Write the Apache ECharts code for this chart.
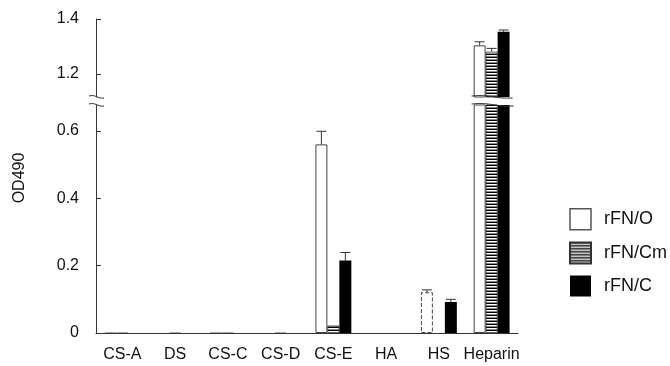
<!DOCTYPE html>
<html><head><meta charset="utf-8">
<script src="https://cdn.jsdelivr.net/npm/echarts@6/dist/echarts.min.js"></script>
<style>html,body{margin:0;padding:0;background:#fff}#c{width:670px;height:366px}</style>
</head><body><div id="c"></div>
<script>
// ---- data ----
const categories = ['CS-A', 'DS', 'CS-C', 'CS-D', 'CS-E', 'HA', 'HS', 'Heparin'];
const seriesNames = ['rFN/O', 'rFN/Cm', 'rFN/C'];
const meanO  = [0.003, 0,     0.003, 0,     0.560, 0, 0.121, 1.304];
const meanCm = [0.003, 0.003, 0.003, 0.003, 0.022, 0, 0,     1.281];
const meanC  = [0,     0,     0,     0,     0.215, 0, 0.092, 1.354];
const errO   = [0, 0, 0, 0, 0.039, 0, 0.007, 0.013];
const errCm  = [0, 0, 0, 0, 0,     0, 0,     0.012];
const errC   = [0, 0, 0, 0, 0.024, 0, 0.008, 0.006];
const lowerTicks = [0, 0.2, 0.4, 0.6];
const upperTicks = [1.2, 1.4];
const LOWER_MIN = 0, LOWER_MAX = 0.677;
const UPPER_MIN = 1.116, UPPER_MAX = 1.4;

// ---- styles ----
const FONT = "'Liberation Sans', Arial, sans-serif";
const pat = document.createElement('canvas');
pat.width = 4; pat.height = 3;
(function () {
  const g = pat.getContext('2d');
  g.fillStyle = '#000'; g.fillRect(0, 0, 4, 1);
  g.fillStyle = '#fff'; g.fillRect(0, 1, 4, 1);
  g.fillStyle = '#8a8a8a'; g.fillRect(0, 2, 4, 1);
})();
const styles = [
  { color: '#fff', borderColor: '#444', borderWidth: 1 },
  { color: { image: pat, repeat: 'repeat' }, borderColor: '#333', borderWidth: 0.8 },
  { color: '#000', borderColor: '#000', borderWidth: 0 }
];
const means = [meanO, meanCm, meanC];
const errs = [errO, errCm, errC];
const BAR_FRAC = 0.227;

function barData(arr, gridIdx, sIdx) {
  return arr.map((v, i) => {
    if (!(v > 0)) return '-';
    if (gridIdx === 0 && v <= UPPER_MIN) return '-';
    if (v < 0.01) {
      return { value: v, itemStyle: { color: '#bbb', borderColor: '#aaa', borderWidth: 1 } };
    }
    if (sIdx === 0 && categories[i] === 'HS') {
      return { value: v, itemStyle: { borderType: 'dashed' } };
    }
    return v;
  });
}
function errData(sIdx, gridIdx) {
  const out = [];
  means[sIdx].forEach((m, i) => {
    const e = errs[sIdx][i];
    if (!(e > 0)) return;
    if (gridIdx === 0 && m > UPPER_MIN) out.push([i, m, e]);
    if (gridIdx === 1 && m < LOWER_MAX) out.push([i, m, e]);
  });
  return out;
}
function makeRender(sIdx) {
  return function (params, api) {
    const i = api.value(0), m = api.value(1), e = api.value(2);
    const base = api.coord([i, m]);
    const top = api.coord([i, m + e]);
    const band = api.size([1, 0])[0];
    const x = base[0] + (sIdx - 1) * band * BAR_FRAC;
    const cap = 5;
    return {
      type: 'group',
      children: [
        { type: 'line', shape: { x1: x, y1: base[1], x2: x, y2: top[1] }, style: { stroke: '#333', lineWidth: 1 } },
        { type: 'line', shape: { x1: x - cap, y1: top[1], x2: x + cap, y2: top[1] }, style: { stroke: '#333', lineWidth: 1 } }
      ]
    };
  };
}

const series = [];
[0, 1].forEach(g => {
  seriesNames.forEach((name, s) => {
    series.push({
      name: name, type: 'bar', xAxisIndex: g, yAxisIndex: g,
      data: barData(means[s], g, s),
      barWidth: (BAR_FRAC * 100) + '%', barGap: '0%',
      itemStyle: styles[s], clip: true, silent: true, animation: false
    });
  });
  seriesNames.forEach((name, s) => {
    series.push({
      type: 'custom', xAxisIndex: g, yAxisIndex: g,
      data: errData(s, g), renderItem: makeRender(s), clip: true, silent: true, animation: false, z: 5
    });
  });
});

const axisLineStyle = { color: '#333', width: 1 };
const chart = echarts.init(document.getElementById('c'), null, { renderer: 'canvas' });
chart.setOption({
  animation: false,
  backgroundColor: '#fff',
  grid: [
    { left: 96, right: 152, top: 19, height: 78 },
    { left: 96, right: 152, top: 105, bottom: 33 }
  ],
  xAxis: [
    { type: 'category', gridIndex: 0, data: categories, show: false },
    {
      type: 'category', gridIndex: 1, data: categories,
      axisLine: { lineStyle: axisLineStyle },
      axisTick: { inside: true, length: 4, interval: 0, lineStyle: axisLineStyle },
      axisLabel: { interval: 0, margin: 14, fontSize: 16, color: '#111', fontFamily: FONT }
    }
  ],
  yAxis: [
    {
      type: 'value', gridIndex: 0, min: UPPER_MIN, max: UPPER_MAX,
      axisLine: { show: true, lineStyle: axisLineStyle },
      axisTick: { show: true, inside: true, length: 5, customValues: upperTicks, lineStyle: axisLineStyle },
      axisLabel: { customValues: upperTicks, margin: 17, fontSize: 16, color: '#111', fontFamily: FONT,
                   formatter: v => v.toFixed(1) },
      splitLine: { show: false }
    },
    {
      type: 'value', gridIndex: 1, min: LOWER_MIN, max: LOWER_MAX,
      axisLine: { show: true, lineStyle: axisLineStyle },
      axisTick: { show: true, inside: true, length: 5, customValues: lowerTicks, lineStyle: axisLineStyle },
      axisLabel: { customValues: lowerTicks, margin: 17, fontSize: 16, color: '#111', fontFamily: FONT,
                   formatter: v => (v === 0 ? '0' : v.toFixed(1)) },
      splitLine: { show: false }
    }
  ],
  legend: {
    orient: 'vertical', left: 564, top: 203, itemWidth: 21, itemHeight: 21, itemGap: 11,
    icon: 'rect', selectedMode: false,
    textStyle: { fontSize: 18, color: '#111', fontFamily: FONT, padding: [0, 0, 0, 8] },
    data: [
      { name: 'rFN/O', itemStyle: { color: '#fff', borderColor: '#555', borderWidth: 1.5 } },
      { name: 'rFN/Cm' },
      { name: 'rFN/C' }
    ]
  },
  series: series
});

// break marks and axis title
const hx = chart.convertToPixel({ xAxisIndex: 1 }, 'Heparin');
function wave(x0, x1, y) {
  const w = x1 - x0;
  return {
    type: 'bezierCurve', silent: true, z: 100,
    shape: { x1: x0, y1: y, cpx1: x0 + w * 0.45, cpy1: y - 2, cpx2: x0 + w * 0.55, cpy2: y + 3, x2: x1, y2: y + 2 },
    style: { stroke: '#333', lineWidth: 1, fill: null }
  };
}
chart.setOption({
  graphic: [
    wave(89, 104, 96), wave(89, 104, 104),
    wave(hx - 20, hx + 21, 96), wave(hx - 20, hx + 22, 104),
    { type: 'text', x: 20, y: 178, rotation: Math.PI / 2, silent: true,
      style: { text: 'OD490', fontSize: 16, fontFamily: FONT, fill: '#111', align: 'center', verticalAlign: 'middle' } }
  ]
});
</script>
</body></html>
